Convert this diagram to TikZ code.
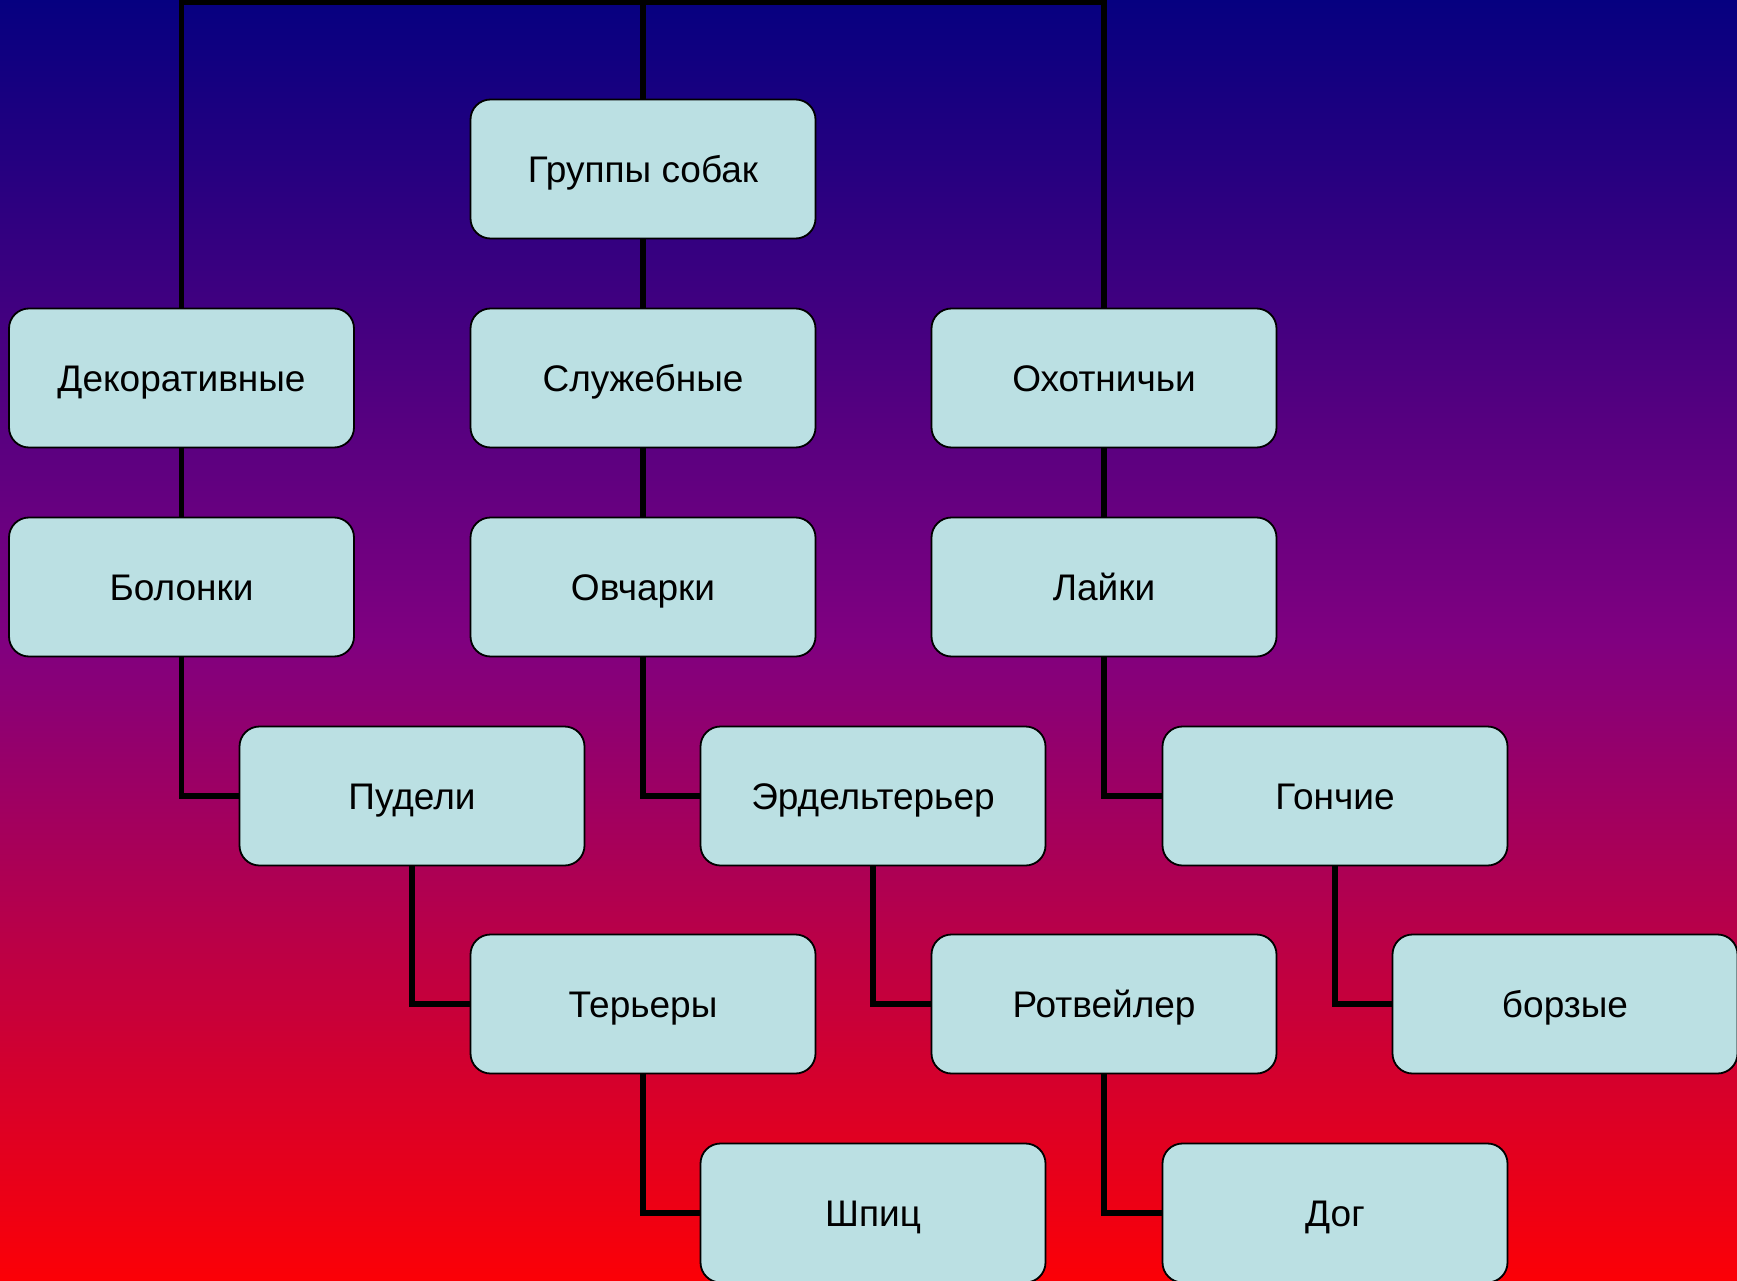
\documentclass[tikz,border=0pt]{standalone}
\usepackage{fontspec}
\setmainfont{Liberation Sans}
\usepackage{tikz}

\definecolor{boxfill}{RGB}{187,224,227}
\definecolor{topnavy}{RGB}{6,0,128}
\definecolor{midpurple}{RGB}{128,0,128}
\definecolor{botred}{RGB}{252,0,6}

\begin{document}
\begin{tikzpicture}[x=1pt,y=1pt]
\tikzstyle{dogbox}=[rectangle,rounded corners=20pt,draw=black,line width=1.8pt,fill=boxfill,
  minimum width=345pt,minimum height=139pt,text height=26.5pt,text depth=0pt,
  font=\fontsize{37}{44}\selectfont,text=black]
\tikzstyle{link}=[line width=5.5pt,draw=black]
\shade[top color=topnavy,bottom color=botred,middle color=midpurple] (0,0) rectangle (1737,-1281);
\useasboundingbox (0,0) rectangle (1737,-1281);
\coordinate (bar) at (643,-2.5);
\node[dogbox] (groups) at (643,-169) {Группы собак};
\node[dogbox] (decor) at (181.5,-378) {Декоративные};
\node[dogbox] (service) at (643,-378) {Служебные};
\node[dogbox] (hunt) at (1104,-378) {Охотничьи};
\node[dogbox] (bolonki) at (181.5,-587) {Болонки};
\node[dogbox] (ovcharki) at (643,-587) {Овчарки};
\node[dogbox] (laiki) at (1104,-587) {Лайки};
\node[dogbox] (pudeli) at (412,-796) {Пудели};
\node[dogbox] (airedale) at (873,-796) {Эрдельтерьер};
\node[dogbox] (gonchie) at (1335,-796) {Гончие};
\node[dogbox] (teriery) at (643,-1004) {Терьеры};
\node[dogbox] (rottweiler) at (1104,-1004) {Ротвейлер};
\node[dogbox] (borzye) at (1565,-1004) {борзые};
\node[dogbox] (shpic) at (873,-1213) {Шпиц};
\node[dogbox] (dog) at (1335,-1213) {Дог};

\draw[link] (groups.north) -- (bar);
\draw[link] (decor.north) |- (bar) -| (hunt.north);
\draw[link] (groups.south) -- (service.north);
\draw[link] (decor.south) -- (bolonki.north);
\draw[link] (service.south) -- (ovcharki.north);
\draw[link] (hunt.south) -- (laiki.north);
\draw[link] (bolonki.south) |- (pudeli.west);
\draw[link] (ovcharki.south) |- (airedale.west);
\draw[link] (laiki.south) |- (gonchie.west);
\draw[link] (pudeli.south) |- (teriery.west);
\draw[link] (airedale.south) |- (rottweiler.west);
\draw[link] (gonchie.south) |- (borzye.west);
\draw[link] (teriery.south) |- (shpic.west);
\draw[link] (rottweiler.south) |- (dog.west);
\end{tikzpicture}
\end{document}
